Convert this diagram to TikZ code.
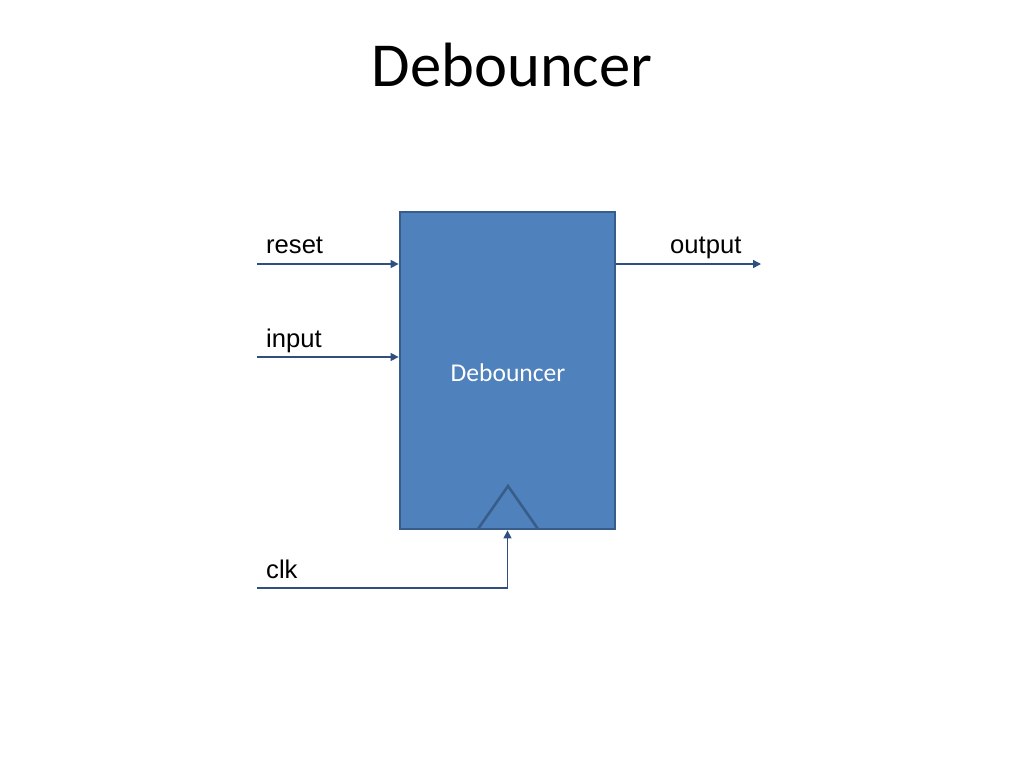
\documentclass[tikz,border=0pt]{standalone}
\usepackage{fontspec}
\setmainfont{Liberation Sans}
\newfontfamily\calib{Carlito}
\usetikzlibrary{arrows.meta}
\definecolor{boxfill}{HTML}{4F81BD}
\definecolor{boxline}{HTML}{385D8A}
\definecolor{wire}{HTML}{2F4F7F}
\tikzset{
  blockbox/.style={draw=boxline, fill=boxfill, line width=2.8pt, minimum width=215pt, minimum height=317pt, inner sep=0pt},
  wirearrow/.style={draw=wire, line width=1.4pt, -{Triangle[length=8pt,width=8pt]}},
  lbl/.style={anchor=base west, inner sep=0pt, font=\fontsize{25.6pt}{28pt}\selectfont}
}
\begin{document}
\begin{tikzpicture}[x=1pt,y=-1pt]
\useasboundingbox (0,0) rectangle (1024,768);
\node[anchor=base, inner sep=0pt, font=\calib\fontsize{62.6pt}{70pt}\selectfont] (title) at (512,86) {Debouncer};
\node[blockbox] (deb) at (507.5,370.5) {};
\node[anchor=base, inner sep=0pt, text=white, font=\calib\fontsize{25.6pt}{28pt}\selectfont] (inner) at (508,381) {Debouncer};
\draw[boxline, line width=2.6pt, line join=miter] (478,529) -- (508,486) -- (538,529);
\node[lbl] (lreset) at (266,253) {reset};
\node[lbl] (linput) at (266,347) {input};
\node[lbl] (lclk) at (266,578) {clk};
\node[lbl] (loutput) at (670,253) {output};
\coordinate (rs) at (257,264);
\coordinate (in) at (257,357);
\coordinate (ck) at (257,588);
\coordinate (out) at (761,264);
\draw[wirearrow] (rs) -- (rs -| deb.west);
\draw[wirearrow] (in) -- (in -| deb.west);
\draw[wirearrow] (ck) -| (deb.south);
\draw[wirearrow] (out -| deb.east) -- (out);
\end{tikzpicture}
\end{document}
